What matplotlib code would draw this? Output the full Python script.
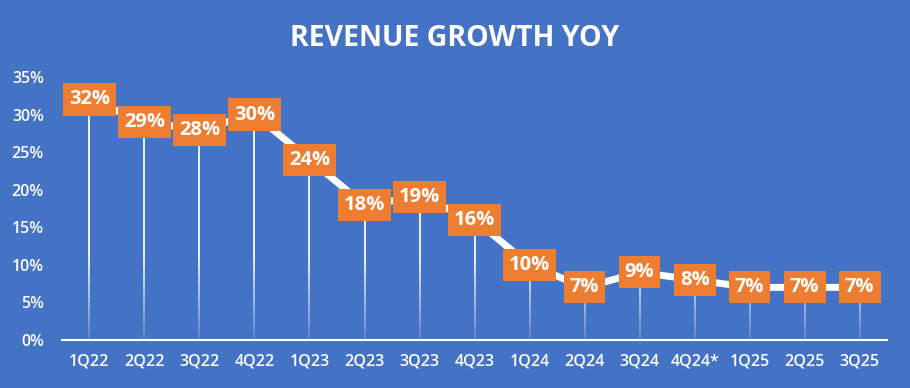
import numpy as np
import matplotlib.pyplot as plt
from matplotlib.collections import LineCollection

quarters = ["1Q22", "2Q22", "3Q22", "4Q22", "1Q23", "2Q23", "3Q23", "4Q23",
            "1Q24", "2Q24", "3Q24", "4Q24*", "1Q25", "2Q25", "3Q25"]
growth = [32, 29, 28, 30, 24, 18, 19, 16, 10, 7, 9, 8, 7, 7, 7]
yticks = [0, 5, 10, 15, 20, 25, 30, 35]

BLUE = "#4472C4"
ORANGE = "#ED7D31"

plt.rcParams["font.family"] = ["Open Sans", "DejaVu Sans"]

fig = plt.figure(figsize=(9.1, 3.88), dpi=100, facecolor=BLUE)
ax = fig.add_axes([0.068, 0.1237, 0.907, 0.678])
ax.set_facecolor(BLUE)

x = np.arange(len(quarters))

# drop lines fading toward the axis
for xi, v in zip(x, growth):
    ys = np.linspace(0, v, 40)
    segs = [[(xi, ys[i]), (xi, ys[i + 1])] for i in range(len(ys) - 1)]
    alphas = np.clip(0.15 + 0.85 * (ys[:-1] / 12.0), 0.15, 0.9)
    cols = [(1, 1, 1, a) for a in alphas]
    ax.add_collection(LineCollection(segs, colors=cols, linewidths=1.4, zorder=2))

ax.plot(x, growth, color="white", lw=5, zorder=3, solid_joinstyle="miter")

for xi, v in zip(x, growth):
    ax.text(xi, v, f"{v}%", ha="center", va="center", color="white",
            fontsize=14.5, fontweight="bold", zorder=5,
            bbox=dict(boxstyle="square,pad=0.3", fc=ORANGE, ec="none"))

ax.set_xlim(-0.5, len(quarters) - 0.5)
ax.set_ylim(0, 35)
ax.set_xticks(x)
ax.set_xticklabels(quarters)
ax.set_yticks(yticks)
ax.set_yticklabels([f"{t}%" for t in yticks])
ax.tick_params(length=0, colors="white", labelsize=11.5)
ax.tick_params(axis="x", pad=10)
ax.tick_params(axis="y", pad=13)
for lab in ax.get_xticklabels():
    lab.set_fontweight("semibold")
for lab in ax.get_yticklabels():
    lab.set_fontweight("semibold")

for s in ["top", "right", "left"]:
    ax.spines[s].set_visible(False)
ax.spines["bottom"].set_color("white")
ax.spines["bottom"].set_linewidth(1.5)
ax.spines["bottom"].set_zorder(6)

fig.text(0.5, 0.9, "REVENUE GROWTH YOY", ha="center", va="center",
         color="white", fontsize=20.5, fontweight="bold")

fig.savefig("out.png", dpi=100, facecolor=BLUE)
